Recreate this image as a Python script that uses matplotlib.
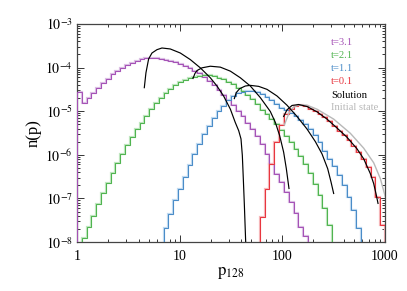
import numpy as np
import matplotlib
matplotlib.use("Agg")
import matplotlib.pyplot as plt
from matplotlib.ticker import LogLocator, NullFormatter, FixedLocator

plt.rcParams['font.family'] = ['Liberation Serif', 'DejaVu Serif']
plt.rcParams['mathtext.fontset'] = 'stix'

# ---------------- data ----------------
n_bins = 64
bin_edges = np.logspace(0, 3, n_bins + 1)

# histograms: first bin index + values
t31_start = 0
t31_vals = [2.75e-5, 1.52e-5, 1.97e-5, 2.66e-5, 3.45e-5, 4.48e-5, 5.53e-5, 6.93e-5,
            8.25e-5, 9.83e-5, 1.13e-4, 1.28e-4, 1.44e-4, 1.57e-4, 1.63e-4, 1.66e-4,
            1.63e-4, 1.60e-4, 1.52e-4, 1.44e-4, 1.35e-4, 1.23e-4, 1.11e-4, 9.83e-5,
            8.54e-5, 7.31e-5, 6.03e-5, 4.89e-5, 3.90e-5, 3.05e-5, 2.35e-5, 1.81e-5,
            1.37e-5, 1.02e-5, 7.57e-6, 5.34e-6, 3.90e-6, 2.75e-6, 1.78e-6, 1.05e-6,
            6.24e-7, 3.70e-7, 2.39e-7, 1.42e-7, 8.11e-8, 4.56e-8, 2.27e-8, 1.35e-8]

t21_start = 1
t21_vals = [1.23e-8, 2.19e-8, 4.04e-8, 7.30e-8, 1.32e-7, 2.31e-7, 3.83e-7, 6.47e-7,
            1.05e-6, 1.69e-6, 2.52e-6, 3.90e-6, 5.34e-6, 7.83e-6, 1.15e-5, 1.57e-5,
            2.01e-5, 2.56e-5, 3.27e-5, 4.00e-5, 4.60e-5, 5.20e-5, 5.70e-5, 6.20e-5,
            6.50e-5, 6.70e-5, 6.60e-5, 6.35e-5, 5.82e-5, 5.34e-5, 4.64e-5, 4.11e-5,
            3.45e-5, 2.90e-5, 2.31e-5, 1.87e-5, 1.44e-5, 1.07e-5, 8.55e-6, 6.58e-6,
            5.07e-6, 3.77e-6, 2.75e-6, 2.01e-6, 1.37e-6, 9.33e-7, 6.03e-7, 3.90e-7,
            2.19e-7, 1.19e-7, 5.92e-8, 2.48e-8]

t11_start = 18
t11_vals = [2.08e-8, 4.33e-8, 9.17e-8, 1.69e-7, 3.11e-7, 5.72e-7, 1.05e-6, 1.78e-6,
            3.00e-6, 4.48e-6, 6.93e-6, 1.02e-5, 1.32e-5, 1.78e-5, 2.23e-5, 2.56e-5,
            2.75e-5, 2.85e-5, 2.85e-5, 2.75e-5, 2.43e-5, 2.12e-5, 1.78e-5, 1.44e-5,
            1.21e-5, 1.05e-5, 9.00e-6, 7.57e-6, 6.35e-6, 5.07e-6, 3.90e-6, 2.85e-6,
            1.94e-6, 1.25e-6, 8.11e-7, 5.43e-7, 3.51e-7, 2.01e-7, 1.09e-7, 5.43e-8,
            2.08e-8]

t01_start = 38
t01_vals = [3.70e-8, 1.69e-7, 6.24e-7, 2.01e-6, 4.81e-6, 8.55e-6, 1.15e-5, 1.32e-5,
            1.37e-5, 1.28e-5, 1.15e-5, 1.00e-5, 8.55e-6, 7.18e-6, 5.82e-6, 4.64e-6,
            3.57e-6, 2.85e-6, 2.19e-6, 1.63e-6, 1.15e-6, 8.11e-7, 5.24e-7, 3.11e-7,
            1.09e-7, 2.48e-8]

# analytic solutions (p, n)
sol31_p = [4.53, 4.70, 4.99, 5.38, 6.01, 6.73, 8.11, 10.15, 12.7, 15.9, 19.9, 23.1,
           26.8, 31.2, 34.8, 37.6, 39.6, 40.8, 41.7, 42.7, 43.9, 44.3]
sol31_n = [3.45e-5, 7.57e-5, 1.57e-4, 2.15e-4, 2.56e-4, 2.80e-4, 2.66e-4, 2.15e-4,
           1.52e-4, 9.83e-5, 5.82e-5, 3.77e-5, 2.23e-5, 1.11e-5, 5.53e-6, 3.57e-6,
           2.31e-6, 9.66e-7, 2.85e-7, 7.06e-8, 1.13e-8, 7.0e-9]

sol21_p = [13.5, 14.1, 14.8, 16.5, 19.9, 24.9, 31.2, 39.0, 48.8, 61.1, 76.4, 85.5,
           94.2, 103.0, 109.4, 116.1]
sol21_n = [5.62e-5, 7.31e-5, 8.54e-5, 9.83e-5, 1.07e-4, 1.02e-4, 8.25e-5, 5.82e-5,
           3.77e-5, 2.04e-5, 9.83e-6, 5.53e-6, 2.75e-6, 1.15e-6, 4.81e-7, 1.69e-7]

sol11_p = [34.1, 35.6, 38.4, 43.6, 48.8, 58.8, 70.9, 88.7, 111.0, 139.0, 173.9, 209.6,
           243.4, 276.5, 297.9, 316.2]
sol11_n = [1.94e-5, 2.66e-5, 3.27e-5, 3.77e-5, 3.90e-5, 3.70e-5, 3.16e-5, 2.23e-5,
           1.37e-5, 7.57e-6, 3.90e-6, 2.01e-6, 1.05e-6, 4.81e-7, 2.39e-7, 1.30e-7]

sol01_p = [103.0, 111.0, 124.2, 144.2, 173.9, 217.6, 272.3, 340.8, 426.6, 533.7,
           619.7, 719.7, 775.5, 823.2, 854.6]
sol01_n = [7.57e-6, 1.07e-5, 1.35e-5, 1.42e-5, 1.28e-5, 9.66e-6, 6.58e-6, 4.11e-6,
           2.52e-6, 1.37e-6, 8.11e-7, 3.70e-7, 2.19e-7, 1.19e-7, 7.70e-8]

init_p = [104.6, 109.4, 116.1, 127.0, 144.2, 173.9, 217.6, 316.2, 459.5, 619.7,
          775.5, 900.4, 1007.0]
init_n = [4.81e-6, 6.35e-6, 9.00e-6, 1.21e-5, 1.39e-5, 1.37e-5, 1.11e-5, 6.58e-6,
          3.11e-6, 1.42e-6, 6.58e-7, 2.85e-7, 1.09e-7]

labels = ["t=3.1", "t=2.1", "t=1.1", "t=0.1", "Solution", "Initial state"]

# ---------------- style ----------------
c31, c31l = "#a552b6", "#dcc0e4"
c21, c21l = "#50b450", "#c0e6c0"
c11, c11l = "#4a8cc8", "#c0daf0"
c01, c01l = "#e8363f", "#f6b8bb"
cinit = "#b8b8b8"

fig = plt.figure(figsize=(4.07, 2.91), dpi=100)
ax = fig.add_axes([0.189, 0.168, 0.757, 0.750])

def hist(start, vals, col, coll):
    e = bin_edges[start:start + len(vals) + 1]
    ax.stairs(vals, e, baseline=1e-12, color=coll, lw=1.6, zorder=2)
    ax.stairs(vals, e, baseline=1e-12, color=col, lw=0.75, zorder=3)

hist(t31_start, t31_vals, c31, c31l)
hist(t21_start, t21_vals, c21, c21l)
hist(t11_start, t11_vals, c11, c11l)
hist(t01_start, t01_vals, c01, c01l)

ax.plot(init_p, init_n, color=cinit, lw=1.0, zorder=4)
for sp, sn in [(sol31_p, sol31_n), (sol21_p, sol21_n), (sol11_p, sol11_n), (sol01_p, sol01_n)]:
    ax.plot(sp, sn, color="black", lw=0.85, zorder=5)

ax.set_xscale("log")
ax.set_yscale("log")
ax.set_xlim(1, 1000)
ax.set_ylim(1e-8, 1e-3)

ax.xaxis.set_major_locator(FixedLocator([1, 10, 100, 1000]))
ax.set_xticklabels(["1", "10", "100", "1000"])
ax.xaxis.set_minor_locator(LogLocator(base=10, subs=np.arange(2, 10)))
ax.xaxis.set_minor_formatter(NullFormatter())
ax.yaxis.set_major_locator(FixedLocator([1e-8, 1e-7, 1e-6, 1e-5, 1e-4, 1e-3]))
ax.set_yticklabels([r"$10^{-8}$", r"$10^{-7}$", r"$10^{-6}$", r"$10^{-5}$",
                    r"$10^{-4}$", r"$10^{-3}$"])
ax.yaxis.set_minor_locator(LogLocator(base=10, subs=np.arange(2, 10)))
ax.yaxis.set_minor_formatter(NullFormatter())

ax.tick_params(which="both", direction="in", top=True, right=True,
               color="#333333", width=0.7, labelsize=10)
ax.tick_params(which="major", length=5, pad=3)
ax.tick_params(which="minor", length=2.5)
ax.tick_params(axis="x", pad=6)
for s in ax.spines.values():
    s.set_color("#444444")
    s.set_linewidth(0.9)

ax.set_xlabel(r"$\mathrm{p}_{128}$", fontsize=12, labelpad=1)
ax.set_ylabel("n(p)", fontsize=12, labelpad=3)

leg_cols = [c31, c21, c11, c01, "black", cinit]
leg_y = [0.913, 0.853, 0.794, 0.734, 0.674, 0.615]
for lab, col, yy in zip(labels, leg_cols, leg_y):
    ax.text(0.825, yy, lab, transform=ax.transAxes, color=col, fontsize=7.6,
            ha="left", va="center")

fig.savefig("out.png", dpi=100)
